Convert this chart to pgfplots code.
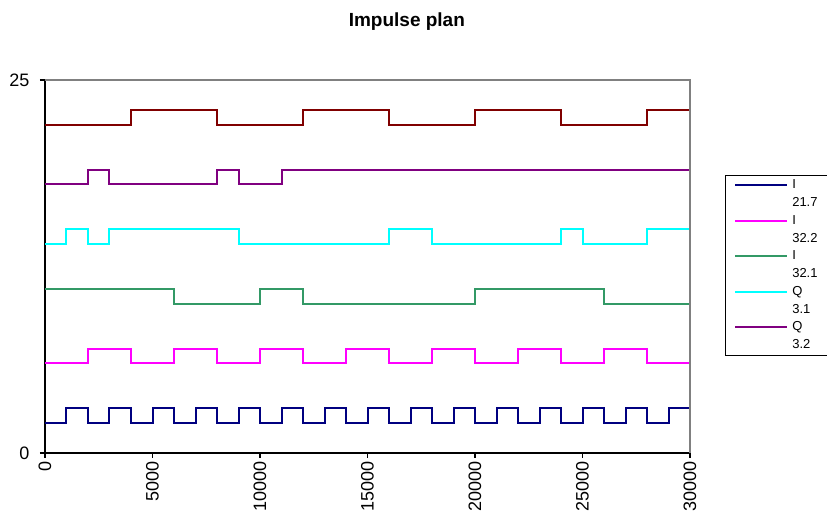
\documentclass[border=0pt]{standalone}
\usepackage{fontspec}
\setmainfont{Liberation Sans}
\usepackage{pgfplots}
\pgfplotsset{compat=1.18}
\definecolor{cNavy}{HTML}{000080}
\definecolor{cMag}{HTML}{FF00FF}
\definecolor{cGreen}{HTML}{339966}
\definecolor{cCyan}{HTML}{00FFFF}
\definecolor{cPurp}{HTML}{800080}
\definecolor{cRed}{HTML}{800000}
\newcommand{\legtwo}[2]{\begin{tabular}[t]{@{}l@{\hspace{30pt}}}#1\\#2\end{tabular}}
\begin{document}
\begin{tikzpicture}
\begin{axis}[
  at={(0pt,0pt)}, anchor=south west,
  scale only axis, width=645pt, height=373pt,
  xmin=0, xmax=30000, ymin=0, ymax=25,
  xtick={0,5000,10000,15000,20000,25000,30000},
  ytick={0,25},
  scaled ticks=false,
  /pgf/number format/1000 sep={},
  /pgf/number format/assume math mode=true,
  axis x line*=bottom, axis y line*=left,
  axis line style={black, line width=1.1pt, -},
  tick align=outside,
  major tick length=5pt,
  tick style={black, line width=1.1pt},
  ticklabel style={font=\fontsize{18}{20}\selectfont},
  xticklabel style={rotate=90, anchor=east},
  yticklabel style={xshift=-7pt},
  title={\textbf{Impulse plan}},
  title style={font=\fontsize{19}{21}\selectfont, at={(0.561,1)}, anchor=base, yshift=47pt},
  every axis plot/.append style={const plot, line width=2pt, mark=none},
  legend style={at={(1.054,0.745)}, anchor=north west, draw=black, line width=0.9pt,
    font=\fontsize{13}{17.75}\selectfont, cells={anchor=base west},
    nodes={text depth=, inner sep=0pt}, inner xsep=9pt, inner ysep=1pt, row sep=0pt, column sep=4pt},
  legend image code/.code={\draw[#1, line width=2pt] (0pt,0.35em) -- (52pt,0.35em);},
  after end axis/.code={\draw[color=gray, line width=1.4pt] (rel axis cs:0,1) -- (rel axis cs:1,1) -- (rel axis cs:1,0);},
]
\addplot[cNavy] coordinates {(0,2)(1000,3)(2000,2)(3000,3)(4000,2)(5000,3)(6000,2)(7000,3)(8000,2)(9000,3)(10000,2)(11000,3)(12000,2)(13000,3)(14000,2)(15000,3)(16000,2)(17000,3)(18000,2)(19000,3)(20000,2)(21000,3)(22000,2)(23000,3)(24000,2)(25000,3)(26000,2)(27000,3)(28000,2)(29000,3)(30000,2)};
\addlegendentry{\legtwo{I}{21.7}}
\addplot[cMag] coordinates {(0,6)(2000,7)(4000,6)(6000,7)(8000,6)(10000,7)(12000,6)(14000,7)(16000,6)(18000,7)(20000,6)(22000,7)(24000,6)(26000,7)(28000,6)(30000,7)};
\addlegendentry{\legtwo{I}{32.2}}
\addplot[cGreen] coordinates {(0,11)(6000,10)(10000,11)(12000,10)(20000,11)(26000,10)(30000,10)};
\addlegendentry{\legtwo{I}{32.1}}
\addplot[cCyan] coordinates {(0,14)(1000,15)(2000,14)(3000,15)(9000,14)(16000,15)(18000,14)(24000,15)(25000,14)(28000,15)(30000,15)};
\addlegendentry{\legtwo{Q}{3.1}}
\addplot[cPurp] coordinates {(0,18)(2000,19)(3000,18)(8000,19)(9000,18)(11000,19)(30000,19)};
\addlegendentry{\legtwo{Q}{3.2}}
\addplot[cRed, forget plot] coordinates {(0,22)(4000,23)(8000,22)(12000,23)(16000,22)(20000,23)(24000,22)(28000,23)(30000,23)};
\end{axis}
\pgfresetboundingbox
\useasboundingbox (-45pt,-65pt) rectangle (782pt,453pt);
\end{tikzpicture}
\end{document}
